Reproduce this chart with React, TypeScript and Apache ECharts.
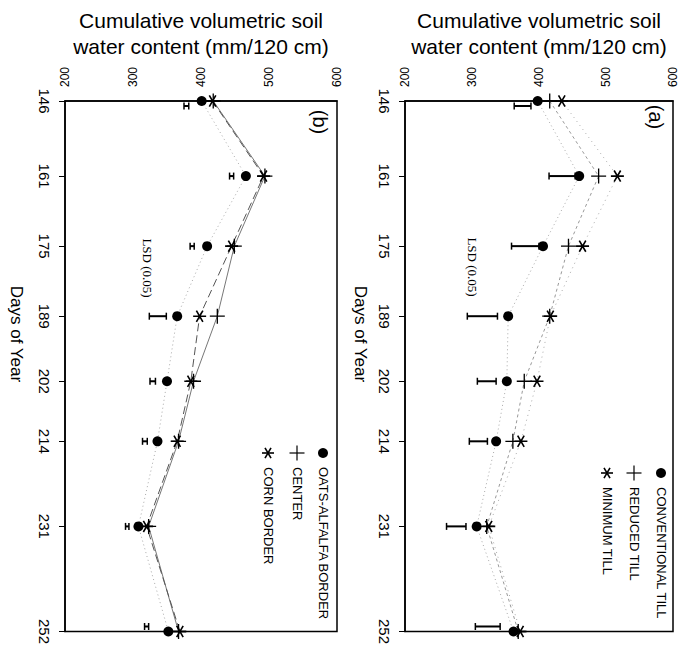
import React, { useEffect, useRef } from "react";
import * as echarts from "echarts";

const days = [146, 161, 175, 189, 202, 214, 231, 252];
const waterMin = 200;
const waterMax = 600;
const waterStep = 100;

// Panel (a)
const conventionalTill = [398, 460, 406, 354, 352, 336, 307, 362];
const reducedTill = [416, 489, 444, 416, 378, 361, 322, 369];
const minimumTill = [434, 517, 465, 417, 397, 373, 325, 372];
const lsdLowA = [363, 415, 359, 293, 308, 296, 262, 305];
const lsdHighA = [388, 454, 400, 338, 336, 323, 291, 342];

// Panel (b)
const oatsAlfalfaBorder = [401, 466, 409, 365, 350, 336, 308, 352];
const centerVals = [418, 494, 449, 424, 389, 367, 323, 367];
const cornBorder = [417, 492, 445, 398, 385, 365, 320, 369];
const lsdLowB = [375, 442, 384, 324, 325, 314, 289, 317];
const lsdHighB = [382, 448, 390, 349, 333, 321, 294, 323];

const legendA = ["CONVENTIONAL TILL", "REDUCED TILL", "MINIMUM TILL"];
const legendB = ["OATS-ALFALFA BORDER", "CENTER", "CORN BORDER"];
const waterTitle = "Cumulative volumetric soil\nwater content (mm/120 cm)";
const dayTitle = "Days of Year";
const lsdLabel = "LSD (0.05)";
const panelLabels = ["(b)", "(a)"];

const SANS = "'Liberation Sans', Arial, Helvetica, sans-serif";
const SERIF = "'Liberation Serif', 'Times New Roman', serif";
const ROT = -Math.PI / 2;

const PLUS =
  "path://M-8,-0.7L8,-0.7L8,0.7L-8,0.7Z M-0.7,-8L0.7,-8L0.7,8L-0.7,8Z";
const STAR =
  "path://M-8,-1L8,-1L8,1L-8,1Z " +
  "M-3.134,-7.428L4.866,6.428L3.134,7.428L-4.866,-6.428Z " +
  "M4.866,-6.428L-3.134,7.428L-4.866,6.428L3.134,-7.428Z";

function pointSeries(
  name: string,
  values: number[],
  g: number,
  symbol: string,
  size: number | number[],
  lineType: any,
  lineColor: string
) {
  return {
    type: "line",
    name,
    xAxisIndex: g,
    yAxisIndex: g,
    data: days.map((d, i) => [values[i], d]),
    symbol,
    symbolSize: size,
    showSymbol: true,
    itemStyle: { color: "#000", borderWidth: 0 },
    lineStyle: { color: lineColor, width: 1, type: lineType },
    z: 3,
  };
}

function lsdSeries(lo: number[], hi: number[], g: number) {
  return {
    type: "custom",
    xAxisIndex: g,
    yAxisIndex: g,
    data: days.map((d, i) => [d, lo[i], hi[i]]),
    encode: { x: [1, 2], y: 0 },
    z: 4,
    renderItem: (params: any, api: any) => {
      const day = api.value(0);
      const p1 = api.coord([api.value(1), day]);
      const p2 = api.coord([api.value(2), day]);
      let dy = 0;
      if (day === days[0]) dy = 5;
      if (day === days[days.length - 1]) dy = -5;
      const y = p1[1] + dy;
      const st = { stroke: "#000", lineWidth: 2 };
      return {
        type: "group",
        children: [
          { type: "line", shape: { x1: p1[0], y1: y, x2: p2[0], y2: y }, style: st },
          { type: "line", shape: { x1: p1[0], y1: y - 3.5, x2: p1[0], y2: y + 3.5 }, style: { stroke: "#000", lineWidth: 1.5 } },
          { type: "line", shape: { x1: p2[0], y1: y - 3.5, x2: p2[0], y2: y + 3.5 }, style: { stroke: "#000", lineWidth: 1.5 } },
        ],
      };
    },
  };
}

function rotText(text: string, x: number, y: number, size: number, align = "center", family = SANS) {
  return {
    type: "text",
    x,
    y,
    rotation: ROT,
    style: {
      text,
      fill: "#000",
      font: `${size}px ${family}`,
      textAlign: align,
      textVerticalAlign: "middle",
    },
  };
}

function plusMark(x: number, y: number) {
  const s = { stroke: "#000", lineWidth: 1.2 };
  return {
    type: "group",
    x,
    y,
    children: [
      { type: "line", shape: { x1: -7.5, y1: 0, x2: 7.5, y2: 0 }, style: s },
      { type: "line", shape: { x1: 0, y1: -7.5, x2: 0, y2: 7.5 }, style: s },
    ],
  };
}

function starMark(x: number, y: number) {
  const s = { stroke: "#000", lineWidth: 1.6 };
  const r = 6;
  const c = Math.cos(Math.PI / 3) * r;
  const sn = Math.sin(Math.PI / 3) * r;
  return {
    type: "group",
    x,
    y,
    children: [
      { type: "line", shape: { x1: -r, y1: 0, x2: r, y2: 0 }, style: s },
      { type: "line", shape: { x1: -c, y1: -sn, x2: c, y2: sn }, style: s },
      { type: "line", shape: { x1: c, y1: -sn, x2: -c, y2: sn }, style: s },
    ],
  };
}

function legendGraphics(names: string[], xs: number[], symY: number, textY: number) {
  return [
    { type: "circle", shape: { cx: xs[0], cy: symY, r: 5 }, style: { fill: "#000" } },
    plusMark(xs[1], symY),
    starMark(xs[2], symY),
    rotText(names[0], xs[0], textY, 13, "left"),
    rotText(names[1], xs[1], textY, 13, "left"),
    rotText(names[2], xs[2], textY, 13, "left"),
  ];
}

function waterAxis(g: number) {
  return {
    type: "value",
    gridIndex: g,
    position: "top",
    min: waterMin,
    max: waterMax,
    interval: waterStep,
    name: waterTitle,
    nameLocation: "middle",
    nameGap: 41,
    nameTextStyle: { fontSize: 21, lineHeight: 26, color: "#000", fontFamily: SANS },
    axisLine: { show: true, lineStyle: { color: "#000", width: 1.5 } },
    axisTick: { show: false },
    splitLine: { show: false },
    axisLabel: { rotate: -90, margin: 14, fontSize: 12, color: "#000", fontFamily: SANS },
  };
}

function dayAxis(g: number) {
  return {
    type: "value",
    gridIndex: g,
    position: "left",
    min: days[0],
    max: days[days.length - 1],
    inverse: true,
    axisLine: { show: true, lineStyle: { color: "#000", width: 1.5 } },
    axisTick: { show: true, customValues: days, length: 6, lineStyle: { color: "#000" } },
    splitLine: { show: false },
    axisLabel: { customValues: days, rotate: -90, margin: 13, fontSize: 15, color: "#000", fontFamily: SANS },
  };
}

export default function App() {
  const ref = useRef<HTMLDivElement>(null);
  useEffect(() => {
    document.body.style.margin = "0";
    const chart = echarts.init(ref.current!, undefined, { renderer: "svg" });
    const option: any = {
      animation: false,
      backgroundColor: "#fff",
      grid: [
        { left: 65, width: 272, top: 101, height: 532, show: true, borderColor: "#000", borderWidth: 1.5, backgroundColor: "transparent" },
        { left: 405, width: 268, top: 101, height: 532, show: true, borderColor: "#000", borderWidth: 1.5, backgroundColor: "transparent" },
      ],
      xAxis: [waterAxis(0), waterAxis(1)],
      yAxis: [dayAxis(0), dayAxis(1)],
      series: [
        pointSeries(legendB[0], oatsAlfalfaBorder, 0, "circle", 10, [1, 3], "#aaa"),
        pointSeries(legendB[1], centerVals, 0, PLUS, 15, "solid", "#777"),
        pointSeries(legendB[2], cornBorder, 0, STAR, [13, 12], [8, 4], "#555"),
        lsdSeries(lsdLowB, lsdHighB, 0),
        pointSeries(legendA[0], conventionalTill, 1, "circle", 10, [1, 3], "#aaa"),
        pointSeries(legendA[1], reducedTill, 1, PLUS, 15, [3, 3], "#999"),
        pointSeries(legendA[2], minimumTill, 1, STAR, [13, 12], [1, 4], "#aaa"),
        lsdSeries(lsdLowA, lsdHighA, 1),
      ],
      graphic: [
        rotText(dayTitle, 16, 334, 17),
        rotText(dayTitle, 360, 334, 17),
        rotText(panelLabels[0], 320, 122, 20),
        rotText(panelLabels[1], 656, 117, 20),
        rotText(lsdLabel, 147, 268, 13, "center", SERIF),
        rotText(lsdLabel, 472, 267, 13, "center", SERIF),
        ...legendGraphics(legendB, [323, 297, 268], 453, 467),
        ...legendGraphics(legendA, [661, 634, 607], 473, 487),
      ],
    };
    chart.setOption(option);
    return () => chart.dispose();
  }, []);
  return <div ref={ref} style={{ width: 688, height: 647 }} />;
}
